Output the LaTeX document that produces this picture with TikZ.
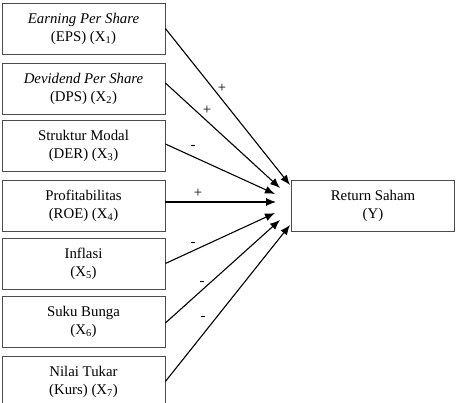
\documentclass[tikz,border=0pt]{standalone}
\usepackage{fontspec}
\setmainfont{Liberation Serif}
\usetikzlibrary{arrows.meta,calc}
\begin{document}
\begin{tikzpicture}[x=1pt,y=-1pt,
  box/.style={draw=black!70,line width=0.8pt,minimum width=163pt,minimum height=51pt,inner sep=0pt,align=center,font=\fontsize{14.8}{18}\selectfont},
  arr/.style={line width=1.1pt,-{Latex[length=10pt,width=8pt]}},
  sgn/.style={inner sep=0pt,font=\fontsize{14.8}{18}\selectfont}]
\clip (0,0) rectangle (459,403);
\fill[white] (0,0) rectangle (459,403);
\node[box] (b1) at (83.5,28.5) {\textit{Earning Per Share}\\(EPS) (X\textsubscript{1})};
\node[box] (b2) at (83.5,88.5) {\textit{Devidend Per Share}\\(DPS) (X\textsubscript{2})};
\node[box] (b3) at (83.5,146) {Struktur Modal\\(DER) (X\textsubscript{3})};
\node[box] (b4) at (83.5,205.5) {Profitabilitas\\(ROE) (X\textsubscript{4})};
\node[box] (b5) at (83.5,263.5) {Inflasi\\(X\textsubscript{5})};
\node[box] (b6) at (83.5,322) {Suku Bunga\\(X\textsubscript{6})};
\node[box] (b7) at (83.5,381.5) {Nilai Tukar\\(Kurs) (X\textsubscript{7})};
\node[box] (y) at (373,205.5) {Return Saham\\(Y)};
\coordinate (t1) at (290,185);
\coordinate (t2) at (280,188);
\coordinate (t3) at (275,194);
\coordinate (t4) at (276,202);
\coordinate (t5) at (275,213);
\coordinate (t6) at (280,220);
\coordinate (t7) at (290,225);
\draw[arr] (b1.east) -- (t1);
\draw[arr] ($(b2.east)+(0,-5.5)$) -- (t2);
\draw[arr] ($(b3.east)+(0,-2)$) -- (t3);
\draw[arr] ($(b4.east)+(0,-3.5)$) -- (t4);
\draw[arr] (b5.east) -- (t5);
\draw[arr] ($(b6.east)+(0,1)$) -- (t6);
\draw[arr] (b7.east) -- (t7);
\node[sgn] (s1) at (222,88) {+};
\node[sgn] (s2) at (207,110) {+};
\node[sgn] (s3) at (193,147) {-};
\node[sgn] (s4) at (198,193) {+};
\node[sgn] (s5) at (193,244) {-};
\node[sgn] (s6) at (202,283) {-};
\node[sgn] (s7) at (203,318) {-};
\end{tikzpicture}
\end{document}
